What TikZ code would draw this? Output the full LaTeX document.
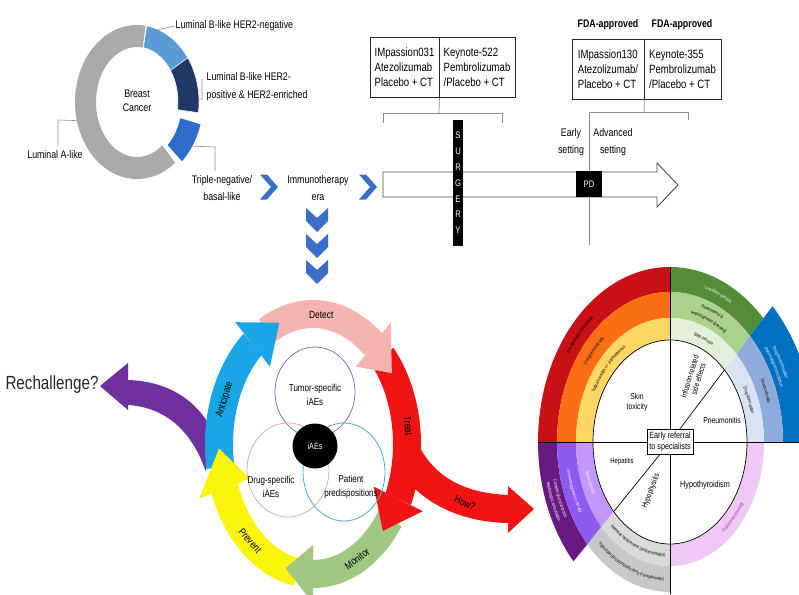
\documentclass[tikz,border=0pt]{standalone}
\usepackage{fontspec}
\setmainfont{Liberation Sans}[FakeStretch=0.8]
\usetikzlibrary{decorations.text}

\definecolor{dgray}{RGB}{170,170,170}
\definecolor{lblue}{RGB}{91,155,213}
\definecolor{navy}{RGB}{31,56,100}
\definecolor{tnblue}{RGB}{47,107,204}
\definecolor{chev}{RGB}{58,110,200}
\definecolor{cdetect}{RGB}{244,180,176}
\definecolor{ctreat}{RGB}{240,20,20}
\definecolor{cmonitor}{RGB}{160,200,130}
\definecolor{cprevent}{RGB}{250,245,10}
\definecolor{canti}{RGB}{25,165,230}
\definecolor{cpurple}{RGB}{112,48,160}
\definecolor{vtumor}{RGB}{140,110,180}
\definecolor{vdrug}{RGB}{215,175,165}
\definecolor{vpat}{RGB}{75,172,198}
\definecolor{wred}{RGB}{200,16,22}
\definecolor{worange}{RGB}{250,110,20}
\definecolor{wyellow}{RGB}{255,215,100}
\definecolor{wgreen}{RGB}{84,140,55}
\definecolor{wgreenm}{RGB}{170,210,140}
\definecolor{wgreenl}{RGB}{226,240,217}
\definecolor{wblue}{RGB}{0,112,192}
\definecolor{wblavm}{RGB}{143,170,220}
\definecolor{wblavl}{RGB}{218,227,243}
\definecolor{wpink}{RGB}{240,200,245}
\definecolor{wpinkt}{RGB}{150,60,150}
\definecolor{wgrayl}{RGB}{218,218,218}
\definecolor{wgrayd}{RGB}{200,200,200}
\definecolor{wpurd}{RGB}{105,25,130}
\definecolor{wpurm}{RGB}{140,90,240}
\definecolor{wpurl}{RGB}{195,150,252}

\newcommand\myseg[7]{\fill[#1] (#2:#4 and #5) arc[start angle=#2,end angle=#3,x radius=#4,y radius=#5] -- (#3:#6 and #7) arc[start angle=#3,end angle=#2,x radius=#6,y radius=#7] -- cycle;}
\newcommand\cybody[3]{\myseg{#1}{#2}{#3}{108}{144}{80}{116}}
\newcommand\cyhead[3]{\fill[#1] (#2:121 and 159) -- (#3:94 and 130) -- (#2:67 and 101) -- cycle;}
\newcommand\btext[6]{\path[decorate,decoration={text along path,text align=center,text color=#1,text={|\fontsize{4.6}{5}\selectfont|#6}}] (#2:#4 and #5) arc[start angle=#2,end angle=#3,x radius=#4,y radius=#5];}
\newcommand\chevR[2]{\fill[chev] (#1,#2-12.5) -- (#1+7,#2-12.5) -- (#1+18,#2) -- (#1+7,#2+12.5) -- (#1,#2+12.5) -- (#1+11,#2) -- cycle;}
\newcommand\chevD[2]{\fill[chev] (#1-11,#2) -- (#1,#2+10) -- (#1+11,#2) -- (#1+11,#2+13) -- (#1,#2+24) -- (#1-11,#2+13) -- cycle;}

\begin{document}
\begin{tikzpicture}[x=1pt,y=-1pt,
 lab/.style={font=\fontsize{11}{16}\selectfont,align=center,inner sep=0.5pt},
 lead/.style={draw=black!45,line width=0.6},
 trial/.style={draw=black!85,line width=0.9,minimum height=60,align=left,inner sep=2pt,font=\fontsize{12}{15}\selectfont},
 brk/.style={draw=black!45,line width=0.7},
 cyc/.style={font=\fontsize{10.5}{12}\selectfont,inner sep=0pt},
 venn/.style={font=\fontsize{10}{14}\selectfont,align=center,inner sep=0pt},
 wt/.style={font=\fontsize{8.5}{10}\selectfont,align=center,inner sep=0pt},
]
\useasboundingbox (0,0) rectangle (799,594);
\clip (0,0) rectangle (799,594);

% ---------- donut ----------
\begin{scope}[shift={(137,102)}]
\myseg{dgray}{52}{278}{62}{77}{41}{55}
\myseg{lblue,draw=white,line width=0.5}{279}{325}{62}{77}{41}{55}
\myseg{navy,draw=white,line width=0.5}{325}{368}{62}{77}{41}{55}
\myseg{tnblue}{16}{47}{66}{81}{45}{59}
\coordinate (dA) at (166:62 and 77);
\coordinate (dBn) at (290:62 and 77);
\coordinate (dBp) at (358:62 and 77);
\coordinate (dT) at (33:66 and 81);
\end{scope}
\node[lab,font=\fontsize{11}{14}\selectfont] (bc) at (137,101) {Breast\\Cancer};
\node[lab,anchor=west] (lbn) at (175,26) {Luminal B-like HER2-negative};
\node[lab,anchor=north west,align=left,font=\fontsize{11}{18}\selectfont] (lbp) at (206,72) {Luminal B-like HER2-\\positive \& HER2-enriched};
\node[lab] (lumA) at (55,155) {Luminal A-like};
\node[lab,font=\fontsize{11}{17}\selectfont] (tn) at (222,188) {Triple-negative/\\basal-like};
\node[lab,font=\fontsize{11}{17}\selectfont] (imm) at (318,188) {Immunotherapy\\era};
\coordinate (kA) at (58,120);
\coordinate (kAb) at (58,146);
\coordinate (kP1) at (202,99);
\coordinate (kP2) at (202,79);
\coordinate (kT1) at (215,147);
\coordinate (kT2) at (215,171);
\draw[lead] (dA) -- (kA) -- (kAb);
\draw[lead] (dBn) -- (lbn.west);
\draw[lead] (dBp) -- (kP1) -- (kP2);
\draw[lead] (dT) -- (kT1) -- (kT2);

% ---------- chevrons ----------
\chevR{260}{187}
\chevR{359}{187}
\chevD{317}{208}
\chevD{317}{234}
\chevD{317}{260}

% ---------- trials ----------
\node[trial,minimum width=69] (t031) at (404.5,67.5) {IMpassion031\\Atezolizumab\\Placebo + CT};
\node[trial,minimum width=76] (t522) at (477,67.5) {Keynote-522\\Pembrolizumab\\/Placebo + CT};
\draw[brk] (383,123) -- (383,113) -- (502,113) -- (502,123);
\draw[brk] (t031.south east) -- (439,113);

\node[trial,minimum width=72] (f130) at (608,69) {IMpassion130\\Atezolizumab/\\Placebo + CT};
\node[trial,minimum width=77] (f355) at (682.5,69) {Keynote-355\\Pembrolizumab\\/Placebo + CT};
\node[font=\bfseries\fontsize{11}{12}\selectfont] (fda1) at (608,25) {FDA-approved};
\node[font=\bfseries\fontsize{11}{12}\selectfont] (fda2) at (682,25) {FDA-approved};
\draw[brk] (f130.south east) -- (644,112);

% ---------- timeline ----------
\draw[draw=black!70,line width=0.9,fill=white] (383,172) -- (657,172) -- (657,163) -- (678,185) -- (657,207) -- (657,197) -- (383,197) -- cycle;
\draw[brk] (589,245) -- (589,112) -- (688,112) -- (688,120);
\node[lab,font=\fontsize{11}{17}\selectfont] (early) at (571,142) {Early\\setting};
\node[lab,font=\fontsize{11}{17}\selectfont] (adv) at (613,142) {Advanced\\setting};
\node[fill=black,text=white,minimum size=26,inner sep=0pt,font=\fontsize{9.5}{10}\selectfont] (pd) at (589,184) {PD};
\node[fill=black,text=white,align=center,inner xsep=2.5pt,inner ysep=12pt,font=\fontsize{9.5}{15.8}\selectfont] (surg) at (458,183) {S\\U\\R\\G\\E\\R\\Y};

% ---------- rechallenge ----------
\fill[cpurple] (211,428) .. controls (195,398) and (165,381) .. (128,380) -- (128,363) -- (100,386) -- (128,410) -- (128,405) .. controls (160,407) and (190,425) .. (206,472) -- cycle;
\node[font=\fontsize{19}{20}\selectfont,text=black!85,inner sep=0pt] (rech) at (52,385) {Rechallenge?};

% ---------- cycle ----------
\begin{scope}[shift={(313,444)}]
\cybody{cdetect}{-120}{-50}
\cybody{ctreat}{-42}{25}
\cybody{cmonitor}{35}{90}
\cybody{cprevent}{100}{160}
\cybody{canti}{170}{230}
\end{scope}
\fill[ctreat] (418,444) .. controls (435,478) and (465,493) .. (508,495) -- (508,486) -- (534,509) -- (508,533) -- (508,523) .. controls (462,522) and (430,505) .. (410,484) -- cycle;
\begin{scope}[shift={(313,444)}]
\cyhead{cdetect}{-50}{-33}
\cyhead{ctreat}{25}{42}
\cyhead{cmonitor}{90}{107}
\cyhead{cprevent}{160}{178}
\cyhead{canti}{230}{249}
\node[cyc] (lDetect) at (-85:94 and 130) {Detect};
\node[cyc,rotate=-84] (lTreat) at (-8:96 and 130) {Treat};
\node[cyc,rotate=36] (lMonitor) at (62:94 and 130) {Monitor};
\node[cyc,rotate=-49] (lPrevent) at (132:94 and 130) {Prevent};
\node[cyc,rotate=73] (lAnti) at (200:94 and 130) {Anticipate};
\end{scope}
\node[cyc,rotate=-25] (lHow) at (465,503) {How?};

% ---------- venn ----------
\draw[vtumor,line width=0.8] (315,392) ellipse[x radius=40,y radius=45];
\draw[vdrug,line width=0.8] (288,470) ellipse[x radius=41,y radius=47];
\draw[vpat,line width=0.8] (344,472) ellipse[x radius=41,y radius=49];
\node[fill=black,circle,minimum size=45,inner sep=0pt,text=white,font=\fontsize{9}{10}\selectfont] (iaes) at (315,446) {iAEs};
\node[venn] (tum) at (315,395) {Tumor-specific\\iAEs};
\node[venn] (drug) at (271,487) {Drug-specific\\iAEs};
\node[venn] (pat) at (351,487) {Patient\\predispositions};

% ---------- wheel ----------
\begin{scope}[shift={(670,442)}]
\myseg{wred}{180}{270}{132}{175}{113}{150}
\myseg{worange}{180}{270}{113}{150}{94}{124}
\myseg{wyellow}{180}{270}{94}{124}{77}{102}
\myseg{wgreen}{270}{315}{132}{175}{113}{150}
\myseg{wgreenm}{270}{315}{113}{150}{94}{124}
\myseg{wgreenl}{270}{315}{94}{124}{77}{102}
\myseg{wblue}{315}{360}{145}{192}{113}{150}
\myseg{wblavm}{315}{360}{113}{150}{94}{124}
\myseg{wblavl}{315}{360}{94}{124}{77}{102}
\myseg{wpink}{0}{90}{94}{124}{77}{102}
\myseg{wgrayd}{90}{137}{113}{150}{94}{124}
\myseg{wgrayl}{90}{137}{94}{124}{77}{102}
\myseg{wpurd}{137}{180}{132}{175}{113}{150}
\myseg{wpurm}{137}{180}{113}{150}{94}{124}
\myseg{wpurl}{137}{180}{94}{124}{77}{102}
\fill[white] (0,0) ellipse[x radius=77,y radius=102];
\btext{black}{188}{262}{121}{160}{Dermatologist consultation}
\btext{black}{188}{262}{102}{135}{Oral glucocorticoids}
\btext{black}{184}{266}{84}{111}{Topical steroids  +/- antihistamines}
\btext{white}{272}{313}{121}{160}{Low-dose steroids}
\btext{black}{272}{313}{106}{141}{Paracetamol {\&}}
\btext{black}{272}{313}{98}{131}{antihistamines (premed)}
\btext{black}{272}{313}{84}{111}{Stop infusion}
\btext{white}{316}{346}{125}{165}{Drug discontinuation}
\btext{white}{316}{346}{118}{156}{Pneumologist consultation}
\btext{black}{317}{358}{102}{135}{Glucocorticoids}
\btext{black}{317}{358}{84}{111}{Drug interruption}
\btext{wpinkt}{85}{5}{87}{115}{Replacement therapy}
\btext{black}{134}{92}{87}{115}{Hormone replacement (endocrinologist)}
\btext{black}{134}{92}{105}{139}{High-dose glucocorticoids (only if symptomatic)}
\btext{white}{178}{139}{120}{159}{Consider glucocorticoids}
\btext{white}{178}{139}{127}{168}{Hepatologist consultation}
\btext{white}{178}{139}{105}{139}{Immunosuppressive therapy}
\btext{white}{178}{139}{87}{115}{Glucocorticoids}
\draw[line width=0.7] (0,0) ellipse[x radius=77,y radius=102];
\draw[line width=0.7] (0,0) -- (-45:77 and 102);
\draw[line width=0.7] (0,0) -- (137:77 and 102);
\end{scope}
\draw[line width=0.7] (538,442) -- (799,442);
\draw[line width=0.7] (670,267) -- (670,594);
\node[draw,fill=white,line width=0.7,align=center,inner sep=2.5pt,font=\fontsize{9}{11}\selectfont] (refer) at (670,442) {Early referral\\to specialists};
\node[wt] (skin) at (637,402) {Skin\\toxicity};
\node[wt,rotate=73,font=\fontsize{8}{9}\selectfont] (infus) at (694,378) {Infusion-related\\side effects};
\node[wt] (pneu) at (722,420) {Pneumonitis};
\node[wt,font=\fontsize{7.5}{9}\selectfont] (hep) at (622,462) {Hepatitis};
\node[wt,rotate=69,font=\fontsize{8}{9}\selectfont] (hypo) at (651,491) {Hypophysitis};
\node[wt,font=\fontsize{9}{10}\selectfont] (hypot) at (705,485) {Hypothyroidism};
\end{tikzpicture}
\end{document}
